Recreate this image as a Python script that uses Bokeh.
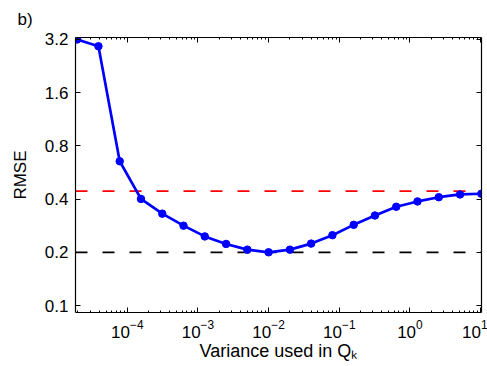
from bokeh.plotting import figure
from bokeh.models import LogAxis, FixedTicker, PrintfTickFormatter, LogTickFormatter, Span, Range1d
from bokeh.embed import file_html
from bokeh.resources import INLINE

# ---- data ----
variance = [1.953125e-5, 3.90625e-5, 7.8125e-5, 1.5625e-4, 3.125e-4, 6.25e-4,
            1.25e-3, 2.5e-3, 5e-3, 1e-2, 2e-2, 4e-2, 8e-2, 0.16, 0.32, 0.64,
            1.28, 2.56, 5.12, 10.24]
rmse = [3.2, 2.93, 0.655, 0.401, 0.331, 0.283, 0.246, 0.223, 0.207, 0.200,
        0.207, 0.224, 0.250, 0.286, 0.323, 0.362, 0.388, 0.410, 0.425, 0.429]
red_level = 0.444
black_level = 0.2
y_ticks = [0.1, 0.2, 0.4, 0.8, 1.6, 3.2]
x_ticks = [1e-4, 1e-3, 1e-2, 1e-1, 1, 10]
x_minor = [m * 10.0 ** e for e in range(-5, 1) for m in range(2, 10)]

FONT = "Liberation Sans"

p = figure(width=487, height=366, x_axis_type="log", y_axis_type="log",
           x_range=Range1d(1.85e-5, 10.3), y_range=Range1d(0.0913, 3.284),
           output_backend="svg", toolbar_location=None,
           min_border_left=75, min_border_right=6, min_border_top=37,
           min_border_bottom=54)
p.grid.visible = False
p.outline_line_color = None
p.background_fill_color = "white"
p.border_fill_color = "white"

p.title.text = "b)"
p.title.align = "left"
p.title.offset = -58
p.title.text_font = FONT
p.title.text_font_size = "17px"
p.title.text_font_style = "normal"
p.title.text_color = "black"
p.title.standoff = 8

xt = FixedTicker(ticks=x_ticks, minor_ticks=x_minor)
yt = FixedTicker(ticks=y_ticks, minor_ticks=[])

xa = p.xaxis[0]
xa.ticker = xt
xa.formatter = LogTickFormatter()
ya = p.yaxis[0]
ya.ticker = yt
ya.formatter = PrintfTickFormatter(format="%.1f")

top = LogAxis(ticker=xt, formatter=PrintfTickFormatter(format=" "))
right = LogAxis(ticker=yt, formatter=PrintfTickFormatter(format=" "))
p.add_layout(top, "above")
p.add_layout(right, "right")

for ax in (xa, ya, top, right):
    ax.axis_line_color = "black"
    ax.axis_line_width = 1.2
    ax.major_tick_line_color = "black"
    ax.minor_tick_line_color = "black"
    ax.major_tick_in = 5
    ax.major_tick_out = 0
    ax.minor_tick_in = 2
    ax.minor_tick_out = 0
    ax.major_label_text_color = "black"
    ax.major_label_text_font = FONT
    ax.axis_label_text_font = FONT
    ax.axis_label_text_font_style = "normal"
    ax.axis_label_text_color = "black"

for ax in (top, right):
    ax.major_label_text_font_size = "2px"
    ax.major_label_standoff = 0

xa.major_label_text_font_size = "17px"
ya.major_label_text_font_size = "17px"
xa.major_label_standoff = 7
ya.major_label_standoff = 7
xa.axis_label = "Variance used in Q\u2096"
ya.axis_label = "RMSE"
xa.axis_label_text_font_size = "18px"
ya.axis_label_text_font_size = "17px"
xa.axis_label_standoff = 0
ya.axis_label_standoff = 12

p.add_layout(Span(location=red_level, dimension="width", line_color="#ff0000",
                  line_dash="12 15", line_width=1.8, level="underlay"))
p.add_layout(Span(location=black_level, dimension="width", line_color="black",
                  line_dash="12 15", line_width=1.8, level="underlay"))

p.line(variance, rmse, line_color="#0000ff", line_width=2.7)
p.scatter(variance, rmse, size=7.5, fill_color="#0000ff", line_color="#0000ff")

open("out.html", "w").write(file_html(p, INLINE))
